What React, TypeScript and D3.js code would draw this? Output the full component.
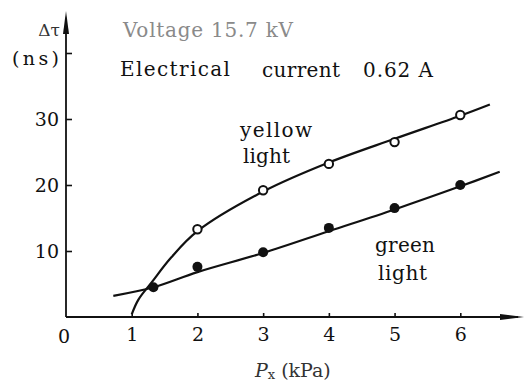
import React, { useEffect, useRef } from 'react'
import * as d3 from 'd3'

// measured points (P in kPa, delay in ns)
const yellowPts: [number, number][] = [[2, 13.3], [3, 19.2], [4, 23.2], [5, 26.5], [6, 30.6]]
const greenPts: [number, number][] = [[1.33, 4.5], [2, 7.6], [3, 9.8], [4, 13.5], [5, 16.5], [6, 20]]
// fitted curves
const yellowCurve: [number, number][] = [[1.0, 0.4], [1.1, 2.6], [1.3, 5.2], [1.6, 9], [2, 13], [3, 19], [4, 23.4], [5, 27], [6, 30.5], [6.45, 32.2]]
const greenCurve: [number, number][] = [[0.72, 3.2], [1.33, 4.5], [2, 6.8], [3, 9.7], [4, 13], [5, 16.3], [6, 19.8], [6.6, 22]]
const xTicks = [1, 2, 3, 4, 5, 6]
const yTicks = [10, 20, 30, 40]
const yTickLabels = ['10', '20', '30', '(ns)']

export default function App() {
  const svgRef = useRef<SVGSVGElement>(null)

  useEffect(() => {
    const width = 530
    const height = 383
    const font = "'DejaVu Serif', 'Liberation Serif', serif"
    const ink = '#111'

    const svg = d3.select(svgRef.current)
      .attr('width', width)
      .attr('height', height)
    svg.selectAll('*').remove()

    const x = d3.scaleLinear().domain([0, 7]).range([66, 526])
    const y = d3.scaleLinear().domain([0, 40]).range([317, 53])

    // x axis
    const xg = svg.append('g')
      .attr('transform', `translate(0, ${y(0)})`)
      .call(d3.axisBottom(x).tickValues(xTicks).tickFormat(d3.format('d')).tickSize(-4).tickSizeOuter(0).tickPadding(11))
    xg.select('.domain').remove()
    xg.selectAll('text').attr('font-size', 19).attr('fill', ink)
    xg.selectAll('line').attr('stroke', ink).attr('stroke-width', 1.6)
    svg.append('line')
      .attr('x1', x(0)).attr('x2', 518).attr('y1', y(0)).attr('y2', y(0))
      .attr('stroke', ink).attr('stroke-width', 1.8)
    svg.append('path')
      .attr('d', `M524,${y(0)} L500,${y(0) - 3} L500,${y(0) + 3} Z`)
      .attr('fill', ink)
    svg.append('text')
      .attr('x', 64).attr('y', y(0) + 26).attr('text-anchor', 'middle')
      .attr('font-size', 19).attr('fill', ink)
      .text('0')

    // y axis
    const yg = svg.append('g')
      .attr('transform', `translate(${x(0)}, 0)`)
      .call(d3.axisLeft(y).tickValues(yTicks).tickFormat((d, i) => yTickLabels[i]).tickSize(-6).tickSizeOuter(0).tickPadding(7))
    yg.select('.domain').remove()
    yg.selectAll('text').attr('font-size', 19).attr('fill', ink)
    yg.selectAll('text').filter((d: any) => d === 40).attr('dy', '0.6em').attr('textLength', 47)
    yg.selectAll('line').attr('stroke', ink).attr('stroke-width', 1.6)
    svg.append('line')
      .attr('x1', x(0)).attr('x2', x(0)).attr('y1', y(0)).attr('y2', 25)
      .attr('stroke', ink).attr('stroke-width', 1.8)
    svg.append('path')
      .attr('d', `M${x(0)},11 L${x(0) - 3},34 L${x(0) + 3},34 Z`)
      .attr('fill', ink)
    svg.append('text')
      .attr('x', 60).attr('y', 36).attr('text-anchor', 'end')
      .attr('font-size', 17).attr('fill', '#333')
      .text('Δτ')

    // curves
    const line = d3.line<[number, number]>()
      .x(d => x(d[0]))
      .y(d => y(d[1]))
      .curve(d3.curveCatmullRom)

    svg.append('path').datum(yellowCurve)
      .attr('d', line).attr('fill', 'none').attr('stroke', ink).attr('stroke-width', 2.2)
    svg.append('path').datum(greenCurve)
      .attr('d', line).attr('fill', 'none').attr('stroke', ink).attr('stroke-width', 2.2)

    svg.selectAll('.yp').data(yellowPts).enter().append('circle')
      .attr('cx', d => x(d[0])).attr('cy', d => y(d[1])).attr('r', 4.2)
      .attr('fill', '#fff').attr('stroke', ink).attr('stroke-width', 2)
    svg.selectAll('.gp').data(greenPts).enter().append('circle')
      .attr('cx', d => x(d[0])).attr('cy', d => y(d[1])).attr('r', 5)
      .attr('fill', ink)

    // annotations
    const label = (tx: number, ty: number, s: string, w: number, fill = ink) =>
      svg.append('text').attr('x', tx).attr('y', ty)
        .attr('font-size', 20).attr('fill', fill)
        .attr('textLength', w).attr('lengthAdjust', 'spacing')
        .text(s)
    label(123, 37, 'Voltage 15.7 kV', 170, '#8a8a8a')
    label(120, 76, 'Electrical', 110)
    label(262, 77, 'current', 78)
    label(363, 77, '0.62 A', 70)
    label(240, 137, 'yellow', 72)
    label(243, 163, 'light', 47)
    label(375, 252, 'green', 60)
    label(378, 280, 'light', 49)

    svg.append('text')
      .attr('x', 255).attr('y', 377)
      .attr('font-size', 19).attr('fill', '#333')
      .html('<tspan font-style="italic">P</tspan><tspan font-size="13" dy="2">x</tspan><tspan dy="-2" dx="6">(kPa)</tspan>')

    // serif everywhere, as in the printed figure
    svg.selectAll('text').style('font-family', font)
  }, [])

  return (
    <svg ref={svgRef} style={{ position: 'absolute', left: 0, top: 0, background: '#fff' }}></svg>
  )
}
